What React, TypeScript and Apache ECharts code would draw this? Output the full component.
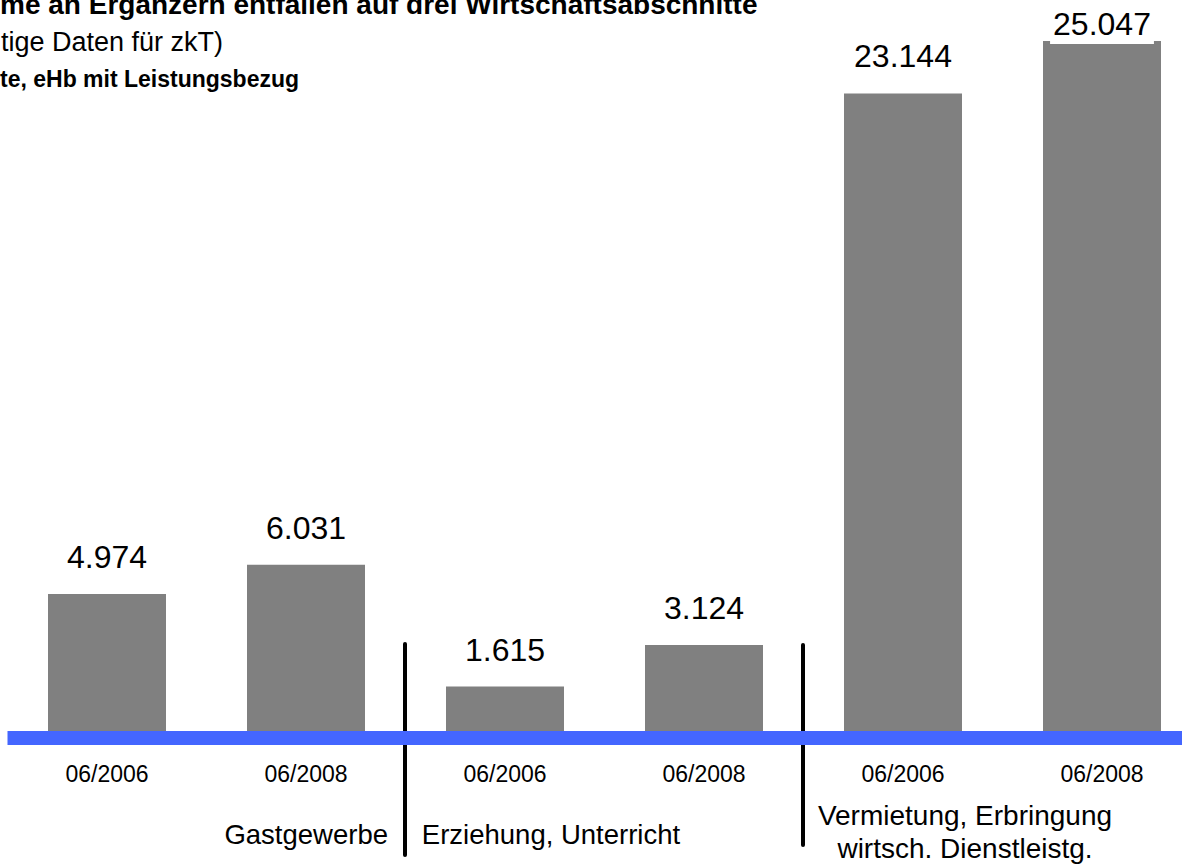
import React, { useEffect, useRef } from "react";
import * as echarts from "echarts";

const categories = ["06/2006", "06/2008", "06/2006", "06/2008", "06/2006", "06/2008"];
const values = [4974, 6031, 1615, 3124, 23144, 25047];
const groupNames = ["Gastgewerbe", "Erziehung, Unterricht", "Vermietung, Erbringung\nwirtsch. Dienstleistg."];
const titleLines = [
  "me an Ergänzern entfallen auf drei Wirtschaftsabschnitte",
  "tige Daten für zkT)",
  "te, eHb mit Leistungsbezug",
];

const FONT = "'Liberation Sans', Arial, Helvetica, sans-serif";

function fmt(v: number): string {
  const s = String(Math.round(v));
  return s.replace(/\B(?=(\d{3})+(?!\d))/g, ".");
}

export default function App() {
  const ref = useRef<HTMLDivElement>(null);
  useEffect(() => {
    if (!ref.current) return;
    const chart = echarts.init(ref.current, undefined, { renderer: "svg" });
    const lastIdx = values.length - 1;
    const seriesData = values.map((v, i) =>
      i === lastIdx
        ? {
            value: v,
            label: {
              distance: -3,
              backgroundColor: "#ffffff",
              padding: [2, 3, 4, 3],
            },
          }
        : v
    );
    chart.setOption({
      animation: false,
      backgroundColor: "#ffffff",
      grid: { left: 7.5, top: 41, width: 1194, height: 690, containLabel: false },
      xAxis: {
        type: "category",
        data: categories,
        offset: 7,
        axisLine: { show: true, onZero: false, lineStyle: { color: "#4466ff", width: 14, cap: "butt" } },
        axisTick: { show: false },
        axisLabel: {
          color: "#000000",
          fontFamily: FONT,
          fontSize: 23,
          margin: 24,
          interval: 0,
        },
        splitLine: { show: false },
      },
      yAxis: {
        type: "value",
        min: 0,
        max: "dataMax",
        show: false,
        splitLine: { show: false },
      },
      series: [
        {
          type: "bar",
          data: seriesData,
          barWidth: 118,
          itemStyle: { color: "#808080" },
          label: {
            show: true,
            position: "top",
            distance: 21,
            color: "#000000",
            fontFamily: FONT,
            fontSize: 32,
            formatter: (p: any) => fmt(p.value),
          },
        },
      ],
      graphic: [
        {
          type: "text",
          x: 0,
          y: 4,
          style: { text: titleLines[0], font: `bold 28px ${FONT}`, fill: "#000", verticalAlign: "middle", align: "left" },
        },
        {
          type: "text",
          x: 1,
          y: 42,
          style: { text: titleLines[1], font: `27px ${FONT}`, fill: "#000", verticalAlign: "middle", align: "left" },
        },
        {
          type: "text",
          x: 0,
          y: 79,
          style: { text: titleLines[2], font: `bold 23px ${FONT}`, fill: "#000", verticalAlign: "middle", align: "left" },
        },
        {
          type: "line",
          shape: { x1: 405, y1: 644, x2: 405, y2: 855 },
          style: { stroke: "#000", lineWidth: 4, lineCap: "round" },
        },
        {
          type: "line",
          shape: { x1: 803, y1: 645, x2: 803, y2: 845 },
          style: { stroke: "#000", lineWidth: 4, lineCap: "round" },
        },
        {
          type: "text",
          x: 388,
          y: 834,
          style: { text: groupNames[0], font: `27.5px ${FONT}`, fill: "#000", verticalAlign: "middle", align: "right" },
        },
        {
          type: "text",
          x: 551,
          y: 834,
          style: { text: groupNames[1], font: `27.5px ${FONT}`, fill: "#000", verticalAlign: "middle", align: "center" },
        },
        {
          type: "text",
          x: 965,
          y: 832,
          style: {
            text: groupNames[2],
            font: `28px ${FONT}`,
            lineHeight: 33,
            fill: "#000",
            verticalAlign: "middle",
            align: "center",
          },
        },
      ],
    });
    return () => chart.dispose();
  }, []);
  return (
    <div
      style={{ position: "absolute", left: 0, top: 0, width: 1182, height: 865, overflow: "hidden" }}
    >
      <div ref={ref} style={{ position: "absolute", left: 0, top: 0, width: 1202, height: 865 }} />
    </div>
  );
}
